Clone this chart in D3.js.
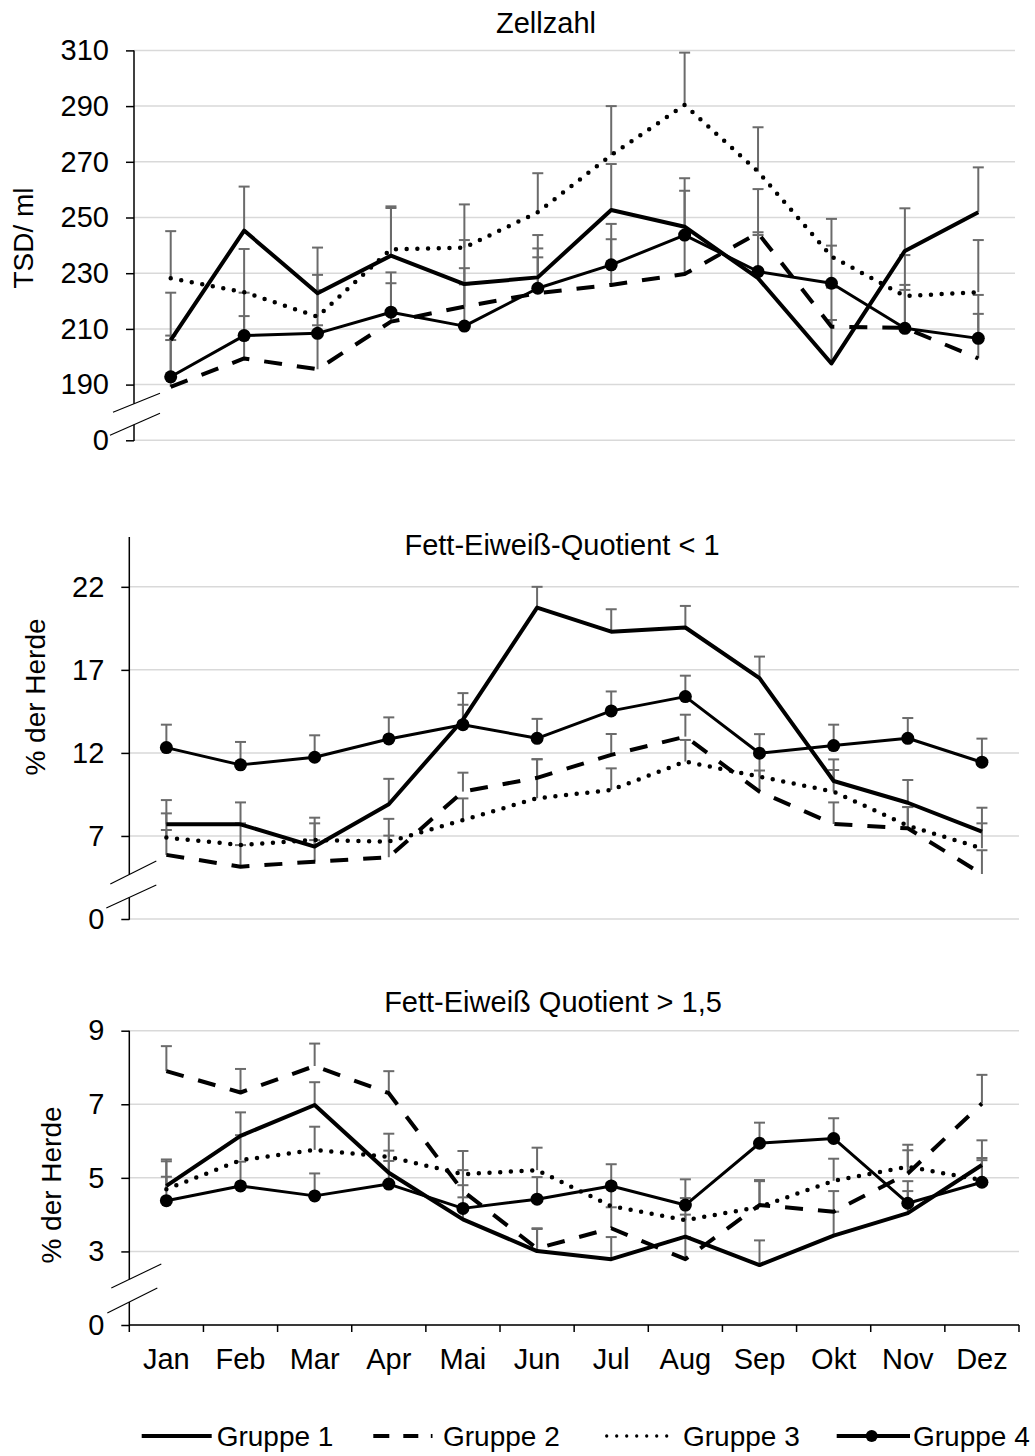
<!DOCTYPE html>
<html>
<head>
<meta charset="utf-8">
<script src="https://cdn.jsdelivr.net/npm/d3@7/dist/d3.min.js"></script>
<style>
  html, body { margin: 0; padding: 0; background: #fff; }
  svg { display: block; }
  text { font-family: "Liberation Sans", Arial, sans-serif; fill: #000; }
</style>
</head>
<body>
<svg id="chart" width="1035" height="1456"></svg>
<script>
// ---------- DATA ----------
const months = ["Jan","Feb","Mar","Apr","Mai","Jun","Jul","Aug","Sep","Okt","Nov","Dez"];
const groups = ["Gruppe 1","Gruppe 2","Gruppe 3","Gruppe 4"];

// Zellzahl (TSD/ml)
const zellG1 = [206.0,245.3,222.8,236.3,226.1,228.5,252.7,246.7,228.2,197.6,238.0,251.9];
const zellG2 = [189.2,199.4,195.5,212.6,218.0,222.8,225.8,229.7,244.4,210.8,210.4,199.4];
const zellG3 = [228.2,223.2,214.4,238.6,239.2,251.9,272.4,290.4,266.5,236.0,221.8,223.2];
const zellG4 = [192.8,207.6,208.4,216.0,211.0,224.6,233.0,243.7,230.6,226.4,210.2,206.6];
const zellErrG1 = [17.0,15.8,16.4,17.1,15.8,15.2,16.5,17.4,15.5,15.6,15.3,16.1];
const zellErrG2 = [16.8,15.2,15.8,13.8,13.8,12.9,16.4,14.0,15.8,14.0,13.6,16.0];
const zellErrG3 = [16.9,15.5,15.0,15.4,15.5,14.0,17.6,18.8,15.9,13.5,14.7,18.7];
const zellErrG4 = [14.8,15.4,15.5,14.3,15.0,14.3,14.7,15.9,14.1,13.5,15.6,15.6];
const zellTicks = [170,190,210,230,250,270,290,310];
const zellTickLabels = ["0","190","210","230","250","270","290","310"];

// Fett-Eiweiß-Quotient < 1 (% der Herde)
const feqLowG1 = [7.70,7.70,6.36,8.91,14.0,20.75,19.3,19.55,16.5,10.31,9.0,7.26];
const feqLowG2 = [5.86,5.15,5.45,5.72,9.67,10.5,11.88,12.98,9.67,7.72,7.46,4.71];
const feqLowG3 = [6.90,6.46,6.76,6.66,7.96,9.27,9.77,11.48,10.57,9.67,7.62,6.26];
const feqLowG4 = [12.32,11.28,11.74,12.84,13.7,12.88,14.53,15.39,11.98,12.44,12.88,11.44];
const feqLowErrG1 = [1.46,1.32,1.40,1.53,1.60,1.25,1.35,1.30,1.30,1.30,1.37,1.44];
const feqLowErrG2 = [1.50,1.30,1.30,1.30,1.14,1.12,1.26,1.32,1.27,1.30,1.28,1.43];
const feqLowErrG3 = [1.46,1.30,1.34,1.37,1.30,2.35,1.30,1.30,1.30,1.30,1.12,1.50];
const feqLowErrG4 = [1.38,1.38,1.32,1.30,1.20,1.17,1.17,1.26,1.15,1.26,1.22,1.42];
const feqLowTicks = [2,7,12,17,22];
const feqLowTickLabels = ["0","7","12","17","22"];

// Fett-Eiweiß Quotient > 1,5 (% der Herde)
const feqHighG1 = [4.78,6.14,6.98,5.14,3.87,3.01,2.79,3.40,2.63,3.43,4.04,5.35];
const feqHighG2 = [7.90,7.32,8.04,7.30,4.64,3.08,3.63,2.79,4.26,4.08,5.12,7.02];
const feqHighG3 = [4.69,5.48,5.76,5.57,5.10,5.21,4.23,3.85,4.21,4.92,5.30,4.94];
const feqHighG4 = [4.38,4.78,4.51,4.83,4.17,4.42,4.78,4.26,5.94,6.07,4.31,4.88];
const feqHighErrG1 = [0.72,0.64,0.62,0.60,0.60,0.60,0.60,0.60,0.67,0.65,0.60,0.67];
const feqHighErrG2 = [0.68,0.64,0.61,0.60,0.57,0.55,0.57,0.60,0.68,0.56,0.63,0.78];
const feqHighErrG3 = [0.76,0.68,0.63,0.63,0.63,0.61,0.63,0.60,0.70,0.60,0.60,0.60];
const feqHighErrG4 = [0.65,0.66,0.61,0.63,0.63,0.60,0.59,0.70,0.56,0.55,0.60,0.60];
const feqHighTicks = [1,3,5,7,9];
const feqHighTickLabels = ["0","3","5","7","9"];

// ---------- LAYOUT ----------
const svg = d3.select("#chart");
svg.append("rect").attr("width",1035).attr("height",1456).attr("fill","#fff");

const FONT = 29;
const styles = [
  { width: 4,   dash: null,      cap: "butt"  },
  { width: 4,   dash: "18 15",   cap: "butt"  },
  { width: 4.5, dash: "0 10.7",  cap: "round" },
  { width: 3,   dash: null,      cap: "butt", marker: true }
];

const panels = [
  {
    title: "Zellzahl", titleX: 546, titleY: 33,
    ylabel: "TSD/ ml", ylabelX: 33, ylabelY: 238,
    series: [zellG1, zellG2, zellG3, zellG4],
    errors: [zellErrG1, zellErrG2, zellErrG3, zellErrG4],
    domain: [170, 310], yRange: [440.3, 50.4], axisTop: 50.4,
    xRange: [134, 1015],
    ticks: zellTicks, tickLabels: zellTickLabels,
    brk: { up: [-21, -28, 26, -47], low: [-24, -5, 26, -27] },
    xAxis: false
  },
  {
    title: "Fett-Eiweiß-Quotient < 1", titleX: 562, titleY: 555,
    ylabel: "% der Herde", ylabelX: 45, ylabelY: 697,
    series: [feqLowG1, feqLowG2, feqLowG3, feqLowG4],
    errors: [feqLowErrG1, feqLowErrG2, feqLowErrG3, feqLowErrG4],
    domain: [2, 25], yRange: [919, 537], axisTop: 537,
    xRange: [129.3, 1019],
    ticks: feqLowTicks, tickLabels: feqLowTickLabels,
    brk: { up: [-19, -35, 27, -58], low: [-23, -11, 27, -34] },
    xAxis: false
  },
  {
    title: "Fett-Eiweiß Quotient > 1,5", titleX: 553, titleY: 1012,
    ylabel: "% der Herde", ylabelX: 61, ylabelY: 1185,
    series: [feqHighG1, feqHighG2, feqHighG3, feqHighG4],
    errors: [feqHighErrG1, feqHighErrG2, feqHighErrG3, feqHighErrG4],
    domain: [1, 9], yRange: [1325, 1030.7], axisTop: 1030.7,
    xRange: [129.3, 1019],
    ticks: feqHighTicks, tickLabels: feqHighTickLabels,
    brk: { up: [-18, -37, 32, -61], low: [-22, -12, 28, -37] },
    xAxis: true
  }
];

panels.forEach(p => {
  const g = svg.append("g");
  const x = d3.scaleBand().domain(months).range(p.xRange).padding(0);
  const y = d3.scaleLinear().domain(p.domain).range(p.yRange);
  const ax = p.xRange[0];
  const y0 = y(p.domain[0]);

  // gridlines
  g.selectAll(".grid").data(p.ticks).join("line")
    .attr("x1", ax).attr("x2", p.xRange[1])
    .attr("y1", d => y(d)).attr("y2", d => y(d))
    .attr("stroke", "#d9d9d9").attr("stroke-width", 1.5);

  // y axis ticks + labels via d3 axis
  const yAxis = d3.axisLeft(y).tickValues(p.ticks).tickSize(8).tickPadding(17)
    .tickFormat((d, i) => p.tickLabels[i]);
  const ya = g.append("g").attr("transform", `translate(${ax},0)`).call(yAxis);
  ya.select(".domain").remove();
  ya.selectAll(".tick line").attr("stroke", "#000").attr("stroke-width", 1.5);
  ya.selectAll(".tick text").attr("font-size", FONT)
    .attr("font-family", '"Liberation Sans", Arial, sans-serif').attr("fill", "#000");

  // axis line with break
  const b = p.brk;
  const yAt = (seg) => seg[1] + (0 - seg[0]) / (seg[2] - seg[0]) * (seg[3] - seg[1]);
  const gapTop = y0 + yAt(b.up);
  const gapBot = y0 + yAt(b.low);
  g.append("line").attr("x1", ax).attr("x2", ax).attr("y1", p.axisTop).attr("y2", gapTop)
    .attr("stroke", "#000").attr("stroke-width", 1.5);
  g.append("line").attr("x1", ax).attr("x2", ax).attr("y1", gapBot).attr("y2", y0 + 0.75)
    .attr("stroke", "#000").attr("stroke-width", 1.5);
  [b.up, b.low].forEach(s => {
    g.append("line")
      .attr("x1", ax + s[0]).attr("y1", y0 + s[1])
      .attr("x2", ax + s[2]).attr("y2", y0 + s[3])
      .attr("stroke", "#000").attr("stroke-width", 1.1);
  });

  // x axis (bottom panel only)
  if (p.xAxis) {
    g.append("line").attr("x1", ax).attr("x2", p.xRange[1]).attr("y1", y0).attr("y2", y0)
      .attr("stroke", "#000").attr("stroke-width", 1.5);
    const bounds = months.map(m => x(m)).concat([p.xRange[1]]);
    g.selectAll(".xt").data(bounds).join("line")
      .attr("x1", d => d).attr("x2", d => d).attr("y1", y0).attr("y2", y0 + 7)
      .attr("stroke", "#000").attr("stroke-width", 1.5);
    g.selectAll(".xl").data(months).join("text")
      .attr("x", d => x(d) + x.bandwidth() / 2).attr("y", y0 + 44)
      .attr("text-anchor", "middle").attr("font-size", FONT).text(d => d);
  }

  // error bars (plus direction)
  const cx = m => x(m) + x.bandwidth() / 2;
  p.series.forEach((vals, si) => {
    const errs = p.errors[si];
    const eg = g.append("g").attr("stroke", "#6b6b6b").attr("stroke-width", 2);
    months.forEach((m, i) => {
      const yv = y(vals[i]), ye = y(vals[i] + errs[i]);
      eg.append("line").attr("x1", cx(m)).attr("x2", cx(m)).attr("y1", yv).attr("y2", ye);
      eg.append("line").attr("x1", cx(m) - 5.5).attr("x2", cx(m) + 5.5).attr("y1", ye).attr("y2", ye);
    });
  });

  // lines
  const line = d3.line().x((d, i) => cx(months[i])).y(d => y(d));
  p.series.forEach((vals, si) => {
    const st = styles[si];
    g.append("path").datum(vals).attr("d", line)
      .attr("fill", "none").attr("stroke", "#000")
      .attr("stroke-width", st.width)
      .attr("stroke-linecap", st.cap).attr("stroke-linejoin", "round")
      .attr("stroke-dasharray", st.dash);
    if (st.marker) {
      g.selectAll(null).data(vals).join("circle")
        .attr("cx", (d, i) => cx(months[i])).attr("cy", d => y(d)).attr("r", 6.5)
        .attr("fill", "#000");
    }
  });

  // title
  g.append("text").attr("x", p.titleX).attr("y", p.titleY).attr("text-anchor", "middle")
    .attr("font-size", FONT).text(p.title);
  // y label
  g.append("text").attr("transform", `translate(${p.ylabelX},${p.ylabelY}) rotate(-90)`)
    .attr("text-anchor", "middle").attr("font-size", 28).text(p.ylabel);
});

// ---------- LEGEND ----------
const legend = svg.append("g");
const legY = 1436;
const legItems = [
  { x1: 141.7, x2: 211.7, tx: 216.7 },
  { x1: 373.3, x2: 432.5, tx: 443 },
  { x1: 606.7, x2: 667,   tx: 683 },
  { x1: 836.7, x2: 910,   tx: 913 }
];
const legDash = [null, "16 14 15 12.5 3.5 100", "0 10", null];
const legWidth = [4, 4, 3.3, 4];
const legCap = ["butt", "butt", "round", "butt"];
groups.forEach((name, i) => {
  const it = legItems[i];
  legend.append("line").attr("x1", it.x1).attr("x2", it.x2).attr("y1", legY).attr("y2", legY)
    .attr("stroke", "#000").attr("stroke-width", legWidth[i])
    .attr("stroke-linecap", legCap[i]).attr("stroke-dasharray", legDash[i]);
  if (styles[i].marker) {
    legend.append("circle").attr("cx", 871.7).attr("cy", legY).attr("r", 6).attr("fill", "#000");
  }
  legend.append("text").attr("x", it.tx).attr("y", 1445.5).attr("font-size", 28).text(name);
});
</script>
</body>
</html>
